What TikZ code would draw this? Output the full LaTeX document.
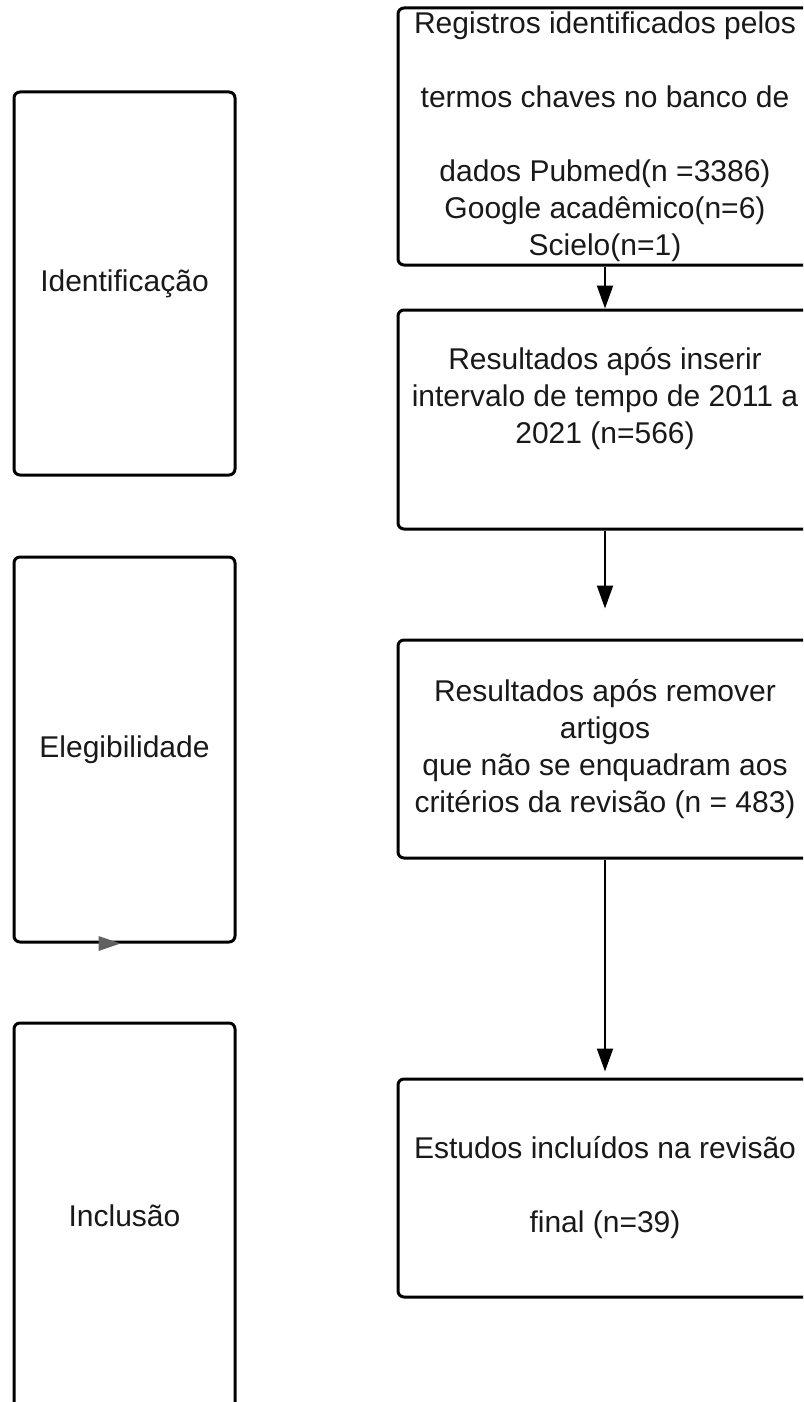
\documentclass[tikz,border=0pt]{standalone}
\usepackage{fontspec}
\setmainfont{Liberation Sans}
\usetikzlibrary{arrows.meta,calc}
\begin{document}
\begin{tikzpicture}[x=0.5pt,y=-0.5pt,
  stagebox/.style={draw=black,line width=1.5pt,rounded corners=3pt,fill=white,
    minimum width=110.5pt,inner sep=0pt,align=center,
    font=\fontsize{15pt}{18.5pt}\selectfont,text=black!90},
  flowbox/.style={draw=black,line width=1.5pt,rounded corners=3pt,fill=white,
    minimum width=207pt,inner sep=0pt,align=center,
    font=\fontsize{15pt}{18.5pt}\selectfont,text=black!90},
  flowarrow/.style={draw=black,line width=1pt,-{Triangle[length=11.5pt,width=8pt]}}]
\useasboundingbox (0,0) rectangle (803,1402);
\clip (0,0) rectangle (803,1402);
% left stages
\node[stagebox,minimum height=191.5pt] (ident) at (124.5,283.5) {Identificação};
\node[stagebox,minimum height=192.5pt] (elig) at (124.5,749.5) {Elegibilidade};
\node[stagebox,minimum height=195pt] (incl) at (124.5,1218) {\raisebox{2.5pt}{Inclusão}};
% flow boxes
\node[flowbox,minimum height=128.5pt] (b1) at (605,136.5)
  {Registros identificados pelos\\[18.5pt]termos chaves no banco de\\[18.5pt]dados Pubmed(n =3386)\\Google acadêmico(n=6)\\Scielo(n=1)};
\node[flowbox,minimum height=109.5pt] (b2) at (605,419.5)
  {Resultados após inserir\\intervalo de tempo de 2011 a\\2021 (n=566)\\[0pt]\strut};
\node[flowbox,minimum height=109pt] (b3) at (605,749)
  {Resultados após remover\\artigos\\que não se enquadram aos\\critérios da revisão (n = 483)};
\node[flowbox,minimum height=109pt] (b4) at (605,1188)
  {Estudos incluídos na revisão\\[18.5pt]final (n=39)};
% connectors
\draw[flowarrow] (b1.south) -- (b2.north);
\draw[flowarrow] (b2.south) -- ($(b3.north)+(0,-30)$);
\draw[flowarrow] (b3.south) -- ($(b4.north)+(0,-6)$);
% stray grey arrowhead on the Elegibilidade box
\fill[black!62] ($(elig.south west)+(86,-7.5)$) -- ($(elig.south west)+(108,0)$) -- ($(elig.south west)+(86,7.5)$) -- cycle;
\end{tikzpicture}
\end{document}
